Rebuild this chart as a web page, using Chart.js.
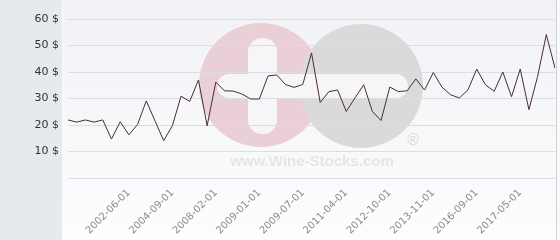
<!DOCTYPE html>
<html>
<head>
<meta charset="utf-8">
<script src="https://cdn.jsdelivr.net/npm/chart.js@4/dist/chart.umd.min.js"></script>
<style>
  html, body { margin: 0; padding: 0; background: #fff; }
  #chart { display: block; }
</style>
</head>
<body>
<canvas id="chart" width="560" height="240"></canvas>
<script>
// price per bottle, one value per date
const values = [
  21.9, 21.1, 21.9, 21.1, 21.9, 14.7, 21.2, 16.3, 20.2, 29.1, 21.6, 14.1,
  19.7, 30.9, 28.9, 37.0, 19.7, 36.2, 32.9, 32.8, 31.7, 29.8, 29.8,
  38.5, 38.9, 35.3, 34.2, 35.3, 47.2, 28.5, 32.6, 33.2, 25.1, 30.2, 35.2,
  25.1, 21.7, 34.3, 32.6, 32.9, 37.4, 33.2, 39.8, 34.3, 31.4, 30.2,
  33.3, 41.1, 35.2, 32.7, 40.0, 30.7, 41.1, 25.8, 38.3, 54.1, 41.5
];

// dates shown on the x axis (every 5th point, starting at point 7)
const tickDates = [
  "2002-06-01", "2004-09-01", "2008-02-01", "2009-01-01", "2009-07-01",
  "2011-04-01", "2012-10-01", "2013-11-01", "2016-09-01", "2017-05-01"
];
const firstTick = 7;
const tickEvery = 5;

const yMin = 0, yMax = 60, yStep = 10;

const categories = values.map((v, i) => {
  const k = (i - firstTick) / tickEvery;
  return (i >= firstTick && Number.isInteger(k)) ? tickDates[k] : "";
});

// panel background + watermark, drawn under the grid
const backdrop = {
  id: "backdrop",
  beforeDraw(chart) {
    const { ctx, chartArea } = chart;
    const W = chart.width, H = chart.height;
    ctx.save();
    ctx.fillStyle = "#fafafb";
    ctx.fillRect(0, 0, W, H);
    ctx.fillStyle = "#e6eaed";
    ctx.fillRect(0, 0, 62, H);
    const g = ctx.createLinearGradient(0, 0, 0, H);
    g.addColorStop(0, "#f1f2f6");
    g.addColorStop(1, "#fdfdfe");
    ctx.fillStyle = g;
    ctx.fillRect(63, 0, chartArea.right + 1 - 63, H);
    ctx.fillStyle = "#cfd0d3";
    ctx.fillRect(Math.round(chartArea.right) + 1, 0, 1, H);

    // watermark logo
    ctx.fillStyle = "#ebcfd6";
    ctx.beginPath(); ctx.arc(261, 85, 62, 0, Math.PI * 2); ctx.fill();
    ctx.fillStyle = "#dadada";
    ctx.beginPath(); ctx.arc(361, 86, 62, 0, Math.PI * 2); ctx.fill();
    ctx.fillStyle = "#f6f6f8";
    ctx.beginPath(); ctx.roundRect(248, 38, 29, 96, 14); ctx.fill();
    ctx.beginPath(); ctx.roundRect(217, 74, 191, 24, 12); ctx.fill();
    ctx.fillStyle = "#e6e6e8";
    ctx.font = "bold 15px 'Liberation Sans', Arial, sans-serif";
    ctx.textAlign = "center";
    ctx.textBaseline = "alphabetic";
    ctx.fillText("www.Wine-Stocks.com", 312, 166);
    ctx.fillStyle = "#d9d9dc";
    ctx.font = "15px 'DejaVu Sans', sans-serif";
    ctx.fillText("\u00ae", 413, 145);
    ctx.restore();
  }
};

new Chart(document.getElementById("chart"), {
  type: "line",
  data: {
    labels: categories,
    datasets: [{
      data: values,
      borderColor: "#4a2a36",
      borderWidth: 1,
      pointRadius: 0,
      tension: 0,
      fill: false
    }]
  },
  options: {
    responsive: false,
    animation: false,
    layout: { padding: { top: 19, right: 5, left: 0, bottom: 0 } },
    plugins: {
      legend: { display: false },
      tooltip: { enabled: false }
    },
    scales: {
      x: {
        offset: false,
        grid: { display: false },
        border: { display: false },
        afterFit(scale) { scale.height = 62; },
        ticks: {
          autoSkip: false,
          minRotation: 45,
          maxRotation: 45,
          padding: 1,
          color: "#8a8a8a",
          font: { family: "'DejaVu Sans', sans-serif", size: 10 },
          callback(v, i) { return categories[i] || null; }
        }
      },
      y: {
        min: yMin,
        max: yMax,
        grid: { color: "#dcdde2", drawTicks: false },
        border: { display: false },
        afterFit(scale) { scale.width = 68; },
        ticks: {
          stepSize: yStep,
          padding: 9,
          color: "#333",
          font: { family: "'DejaVu Sans', sans-serif", size: 11 },
          callback(v) { return v === 0 ? "" : v + " $"; }
        }
      }
    }
  },
  plugins: [backdrop]
});
</script>
</body>
</html>
